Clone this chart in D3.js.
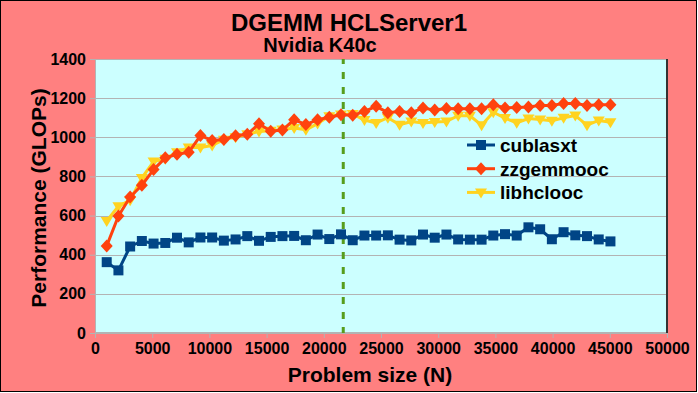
<!DOCTYPE html>
<html>
<head>
<meta charset="utf-8">
<script src="https://cdn.jsdelivr.net/npm/d3@7"></script>
<style>
  body { margin: 0; background: #ffffff; }
  svg { display: block; font-family: "Liberation Sans", Arial, sans-serif; }
  text { font-weight: bold; fill: #000; }
</style>
</head>
<body>
<svg></svg>
<script>
// problem sizes N (x axis)
var sizes = [1024, 2048, 3072, 4096, 5120, 6144, 7168, 8192, 9216, 10240,
             11264, 12288, 13312, 14336, 15360, 16384, 17408, 18432, 19456, 20480,
             21504, 22528, 23552, 24576, 25600, 26624, 27648, 28672, 29696, 30720,
             31744, 32768, 33792, 34816, 35840, 36864, 37888, 38912, 39936, 40960,
             41984, 43008, 44032, 45056];

var cublasxt = [362, 320, 442, 470, 457, 460, 487, 463, 488, 488,
                472, 478, 495, 471, 491, 495, 496, 474, 503, 480,
                504, 474, 498, 498, 499, 477, 473, 503, 487, 503,
                478, 477, 477, 498, 505, 498, 540, 530, 479, 515,
                499, 495, 478, 468];

var zzgemmooc = [445, 598, 695, 755, 835, 895, 913, 923, 1009, 984,
                 989, 1008, 1015, 1069, 1031, 1037, 1090, 1065, 1090, 1102,
                 1115, 1112, 1132, 1158, 1126, 1132, 1126, 1149, 1139, 1147,
                 1146, 1146, 1146, 1166, 1150, 1152, 1155, 1163, 1163, 1173,
                 1173, 1163, 1166, 1166];

var libhclooc = [572, 648, 678, 792, 876, 890, 923, 948, 948, 958,
                 988, 1000, 1015, 1030, 1034, 1040, 1047, 1038, 1070, 1108,
                 1116, 1119, 1088, 1073, 1100, 1064, 1081, 1073, 1078, 1081,
                 1110, 1110, 1062, 1128, 1098, 1074, 1096, 1091, 1084, 1100,
                 1111, 1062, 1086, 1077];

var seriesNames = ["cublasxt", "zzgemmooc", "libhclooc"];
var seriesColors = ["#004586", "#ff420e", "#ffd320"];
var seriesMarkers = ["square", "diamond", "triangle"];

var xTicks = [0, 5000, 10000, 15000, 20000, 25000, 30000, 35000, 40000, 45000, 50000];
var yTicks = [0, 200, 400, 600, 800, 1000, 1200, 1400];
var memoryLimit = 21700;   // dashed marker line

var screen = { width: 698, height: 393 };
var margins = { top: 59, bottom: 60, left: 95, right: 31 };
var width = screen.width - margins.left - margins.right;
var height = screen.height - margins.top - margins.bottom;

var svg = d3.select("svg")
            .attr("width", screen.width)
            .attr("height", screen.height);

// chart background
svg.append("rect")
   .attr("x", 0.5).attr("y", 0.5)
   .attr("width", screen.width - 2).attr("height", screen.height - 2)
   .attr("fill", "#ff8080")
   .attr("stroke", "#000")
   .attr("stroke-width", 1);

svg.append("text")
   .attr("x", 349).attr("y", 31)
   .attr("text-anchor", "middle")
   .style("font-size", "24px")
   .text("DGEMM HCLServer1");

svg.append("text")
   .attr("x", 320).attr("y", 52)
   .attr("text-anchor", "middle")
   .style("font-size", "20px")
   .text("Nvidia K40c");

var xScale = d3.scaleLinear()
               .domain([0, 50000])
               .range([0, width]);
var yScale = d3.scaleLinear()
               .domain([0, 1400])
               .range([height, 0]);

var plot = svg.append("g")
              .attr("transform", "translate(" + margins.left + "," + margins.top + ")");

plot.append("rect")
    .attr("width", width).attr("height", height)
    .attr("fill", "#ccffff");

// grid
plot.selectAll("line.grid")
    .data(yTicks.slice(1, -1))
    .enter()
    .append("line")
    .classed("grid", true)
    .attr("x1", 0).attr("x2", width)
    .attr("y1", function(d) { return Math.round(yScale(d)) + 0.5; })
    .attr("y2", function(d) { return Math.round(yScale(d)) + 0.5; })
    .attr("stroke", "#b3b3b3");

plot.append("rect")
    .attr("x", 0.5).attr("y", 0.5)
    .attr("width", width - 1).attr("height", height - 1)
    .attr("fill", "none")
    .attr("stroke", "#b3b3b3");
plot.append("line")
    .attr("x1", width).attr("x2", width)
    .attr("y1", 0).attr("y2", height)
    .attr("stroke", "#333").attr("stroke-width", 2);

// axes
var xAxis = d3.axisBottom(xScale).tickValues(xTicks).tickSize(5).tickPadding(5)
              .tickFormat(d3.format("d"));
var yAxis = d3.axisLeft(yScale).tickValues(yTicks).tickSize(5).tickPadding(4)
              .tickFormat(d3.format("d"));

var gx = plot.append("g")
             .attr("transform", "translate(0," + height + ")")
             .call(xAxis);
var gy = plot.append("g").call(yAxis);

[gx, gy].forEach(function(g) {
  g.select(".domain").attr("stroke", "#b3b3b3");
  g.selectAll(".tick line").attr("stroke", "#b3b3b3");
  g.selectAll(".tick text")
   .style("font-size", "16px")
   .style("font-weight", "bold")
   .attr("fill", "#000");
});

svg.append("text")
   .attr("x", 370).attr("y", 382)
   .attr("text-anchor", "middle")
   .style("font-size", "21px")
   .text("Problem size (N)");

svg.append("text")
   .attr("transform", "translate(46,198) rotate(-90)")
   .attr("text-anchor", "middle")
   .style("font-size", "21px")
   .text("Performance (GLOPs)");

// dashed line
plot.append("line")
    .attr("x1", xScale(memoryLimit)).attr("x2", xScale(memoryLimit))
    .attr("y1", 0).attr("y2", height)
    .attr("stroke", "#579d1c")
    .attr("stroke-width", 3)
    .attr("stroke-dasharray", "7,8")
    .attr("stroke-dashoffset", 2);

var markerPath = function(type) {
  if (type == "square") return "M-5,-5H5V5H-5Z";
  if (type == "diamond") return "M0,-6.5L6,0L0,6.5L-6,0Z";
  return "M-6,-4H6L0,6Z";
};

var series = [cublasxt, zzgemmooc, libhclooc];
var order = [0, 2, 1];

var line = d3.line()
             .x(function(d, i) { return xScale(sizes[i]); })
             .y(function(d) { return yScale(d); });

order.forEach(function(s) {
  var g = plot.append("g").classed("series", true);
  g.append("path")
   .attr("d", line(series[s]))
   .attr("fill", "none")
   .attr("stroke", seriesColors[s])
   .attr("stroke-width", 3)
   .attr("stroke-linejoin", "round");
  g.selectAll("path.marker")
   .data(series[s])
   .enter()
   .append("path")
   .classed("marker", true)
   .attr("d", markerPath(seriesMarkers[s]))
   .attr("transform", function(d, i) {
     return "translate(" + xScale(sizes[i]) + "," + yScale(d) + ")";
   })
   .attr("fill", seriesColors[s]);
});

// legend
var legend = svg.append("g")
                .attr("transform", "translate(467,145)");
var legendLines = legend.selectAll("g")
                        .data(seriesNames)
                        .enter()
                        .append("g")
                        .attr("transform", function(d, i) { return "translate(0," + (i * 23.7) + ")"; });
legendLines.append("line")
           .attr("x1", 0).attr("x2", 28)
           .attr("stroke", function(d, i) { return seriesColors[i]; })
           .attr("stroke-width", 3);
legendLines.append("path")
           .attr("d", function(d, i) { return markerPath(seriesMarkers[i]); })
           .attr("transform", "translate(14,0)")
           .attr("fill", function(d, i) { return seriesColors[i]; });
legendLines.append("text")
           .attr("x", 33).attr("y", 7)
           .style("font-size", "19px")
           .text(function(d) { return d; });
</script>
</body>
</html>
